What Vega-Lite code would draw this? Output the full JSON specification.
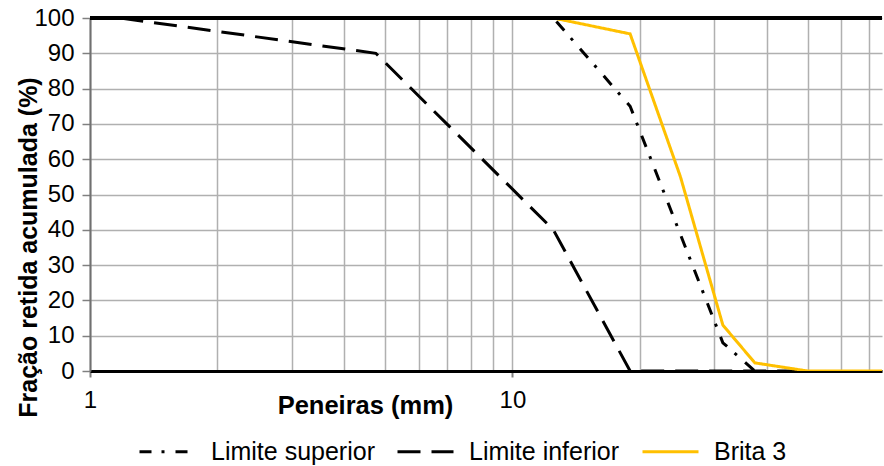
{
  "$schema": "https://vega.github.io/schema/vega-lite/v6.json",
  "width": 792,
  "height": 353,
  "autosize": "none",
  "padding": {"left": 90, "top": 18, "right": 2, "bottom": 95},
  "background": "white",
  "config": {
    "font": "Liberation Sans",
    "view": {"stroke": null},
    "axisY": {
      "values": [0, 10, 20, 30, 40, 50, 60, 70, 80, 90, 100],
      "labelFontSize": 24,
      "labelColor": "black",
      "labelPadding": 8,
      "labelOverlap": false,
      "labelFlush": false,
      "tickSize": 8,
      "tickColor": "#808080",
      "tickWidth": 1.5,
      "grid": true,
      "gridColor": "#b0b0b0",
      "gridWidth": 1.5,
      "domainColor": "#707070",
      "domainWidth": 2,
      "titleFontSize": 25,
      "titleFontWeight": "bold",
      "titleColor": "black",
      "titleAngle": 270,
      "titleX": -62,
      "titleY": 229,
      "titleAlign": "center",
      "titleBaseline": "middle"
    }
  },
  "data": {
    "values": [
      {"serie": "Limite superior", "mm": 1, "pct": 100},
      {"serie": "Limite superior", "mm": 12.5, "pct": 100},
      {"serie": "Limite superior", "mm": 19, "pct": 75},
      {"serie": "Limite superior", "mm": 31.5, "pct": 8},
      {"serie": "Limite superior", "mm": 37.5, "pct": 0},
      {"serie": "Limite inferior", "mm": 1.18, "pct": 100},
      {"serie": "Limite inferior", "mm": 4.75, "pct": 90},
      {"serie": "Limite inferior", "mm": 12.5, "pct": 40},
      {"serie": "Limite inferior", "mm": 19, "pct": 0},
      {"serie": "Limite inferior", "mm": 25, "pct": 0},
      {"serie": "Limite inferior", "mm": 31.5, "pct": 0},
      {"serie": "Limite inferior", "mm": 37.5, "pct": 0},
      {"serie": "Limite inferior", "mm": 50, "pct": 0},
      {"serie": "Brita 3", "mm": 12.5, "pct": 100},
      {"serie": "Brita 3", "mm": 19, "pct": 95.5},
      {"serie": "Brita 3", "mm": 25, "pct": 55},
      {"serie": "Brita 3", "mm": 31.5, "pct": 13},
      {"serie": "Brita 3", "mm": 37.5, "pct": 2.3},
      {"serie": "Brita 3", "mm": 50, "pct": 0},
      {"serie": "Brita 3", "mm": 75, "pct": 0}
    ]
  },
  "layer": [
    {
      "mark": {"type": "line", "clip": true},
      "encoding": {
        "x": {
          "field": "mm",
          "type": "quantitative",
          "scale": {"type": "log", "domain": [1, 75], "nice": false},
          "axis": {
            "values": [1, 2, 3, 4, 5, 6, 7, 8, 9, 10, 20, 30, 40, 50, 60, 70],
            "labelExpr": "datum.value == 1 || datum.value == 10 ? datum.value : ''",
            "labelFontSize": 24,
            "labelColor": "black",
            "labelPadding": 11,
            "labelFlush": false,
            "labelOverlap": false,
            "tickSize": 6,
            "tickColor": "#808080",
            "tickWidth": 2,
            "tickOpacity": {"condition": {"test": "datum.value == 1 || datum.value == 10", "value": 1}, "value": 0},
            "grid": true,
            "gridColor": "#b0b0b0",
            "gridWidth": 1.5,
            "domainColor": "black",
            "domainWidth": 3,
            "title": "Peneiras (mm)",
            "titleFontSize": 25.5,
            "titleFontWeight": "bold",
            "titleColor": "black",
            "titleX": 275,
            "titleY": 34,
            "titleAlign": "center",
            "titleBaseline": "middle"
          }
        },
        "y": {
          "field": "pct",
          "type": "quantitative",
          "scale": {"domain": [0, 100], "nice": false},
          "title": "Fração retida acumulada (%)"
        },
        "color": {
          "field": "serie",
          "type": "nominal",
          "scale": {"domain": ["Limite superior", "Limite inferior", "Brita 3"], "range": ["black", "black", "#FFC000"]},
          "legend": {
            "title": null,
            "orient": "none",
            "direction": "horizontal",
            "legendX": 48,
            "legendY": 404,
            "labelFontSize": 25,
            "labelColor": "black",
            "labelLimit": 400,
            "symbolType": "stroke",
            "symbolSize": 3136,
            "symbolStrokeWidth": 3,
            "labelOffset": 14,
            "columnPadding": 16
          }
        },
        "strokeDash": {
          "field": "serie",
          "type": "nominal",
          "scale": {"domain": ["Limite superior", "Limite inferior", "Brita 3"], "range": [[12, 10, 3, 11], [23, 11], [1, 0]]},
          "legend": null
        },
        "strokeWidth": {
          "field": "serie",
          "type": "nominal",
          "scale": {"domain": ["Limite superior", "Limite inferior", "Brita 3"], "range": [3, 3, 4.5]},
          "legend": null
        },
        "order": {"field": "mm", "type": "quantitative"}
      }
    },
    {
      "mark": {"type": "rule", "color": "black", "strokeWidth": 3},
      "encoding": {"y": {"datum": 100, "title": "Fração retida acumulada (%)"}}
    }
  ]
}
